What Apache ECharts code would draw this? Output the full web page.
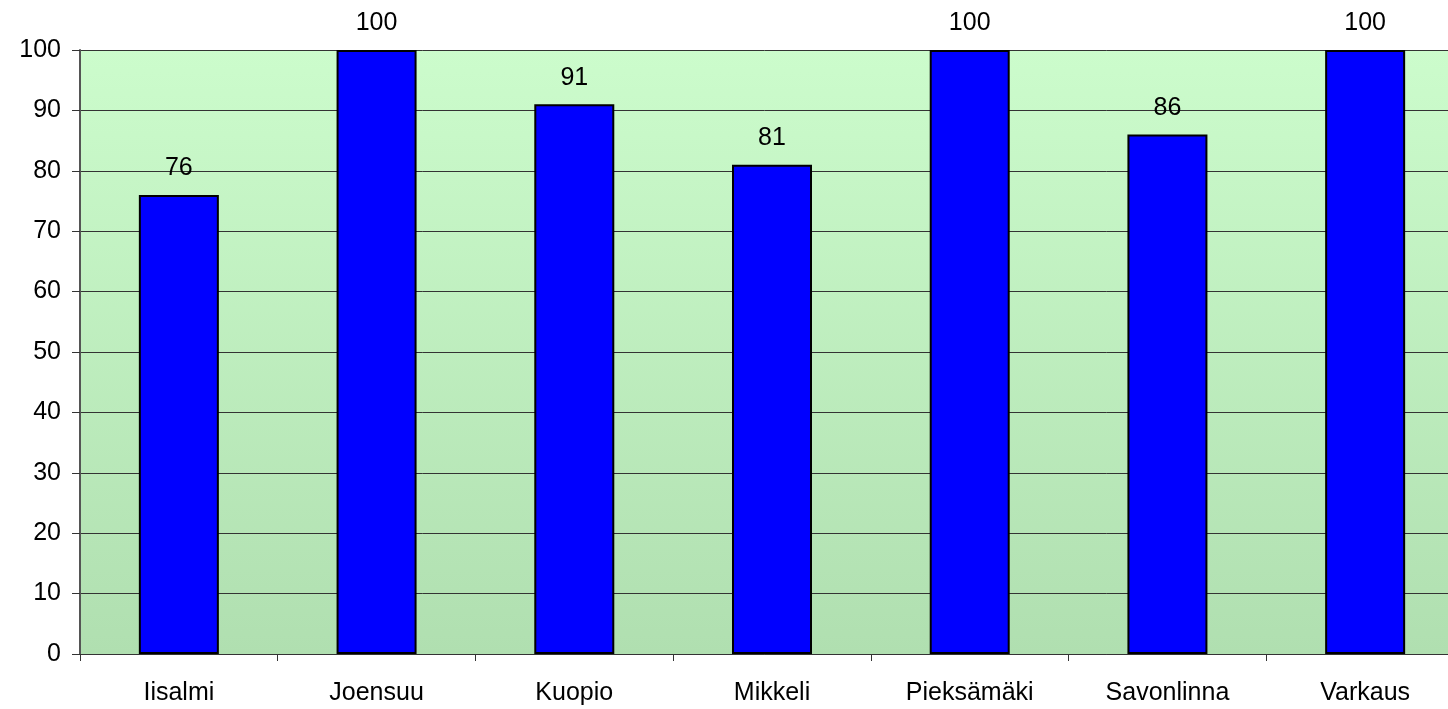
<!DOCTYPE html>
<html>
<head>
<meta charset="utf-8">
<script src="https://cdn.jsdelivr.net/npm/echarts@6/dist/echarts.min.js"></script>
<style>
  html, body { margin: 0; padding: 0; background: #fff; }
  #main { width: 1448px; height: 709px; }
</style>
</head>
<body>
<div id="main"></div>
<script>
var cities = ['Iisalmi', 'Joensuu', 'Kuopio', 'Mikkeli', 'Pieksämäki', 'Savonlinna', 'Varkaus'];
var values = [76, 100, 91, 81, 100, 86, 100];

var myChart = echarts.init(document.getElementById('main'));

var font = 'Liberation Sans, Arial';

var option = {
  animation: false,
  grid: {
    left: 80,
    width: 1384,
    top: 50,
    height: 604,
    outerBoundsMode: 'none',
    containLabel: false,
    show: true,
    borderWidth: 0,
    backgroundColor: new echarts.graphic.LinearGradient(0, 0, 0, 1, [
      { offset: 0, color: '#ccfccc' },
      { offset: 1, color: '#b0dfb0' }
    ])
  },
  xAxis: {
    type: 'category',
    data: cities,
    axisLine: { lineStyle: { color: '#333', width: 1 } },
    axisTick: { show: true, length: 7, lineStyle: { color: '#333' } },
    axisLabel: { color: '#000', fontSize: 25, fontFamily: font, margin: 27 }
  },
  yAxis: {
    type: 'value',
    min: 0,
    max: 100,
    interval: 10,
    axisLine: { show: true, lineStyle: { color: '#555', width: 2 } },
    axisTick: { show: true, length: 8, lineStyle: { color: '#333' } },
    axisLabel: { color: '#000', fontSize: 25, fontFamily: font, margin: 19 },
    splitLine: { show: true, lineStyle: { color: '#333', width: 1 } }
  },
  series: [{
    type: 'bar',
    data: values,
    barWidth: 80,
    itemStyle: { color: '#0000ff', borderColor: '#000', borderWidth: 2 },
    label: {
      show: true,
      position: 'top',
      distance: 14,
      color: '#000',
      fontSize: 25,
      fontFamily: font
    }
  }]
};

myChart.setOption(option);
</script>
</body>
</html>
